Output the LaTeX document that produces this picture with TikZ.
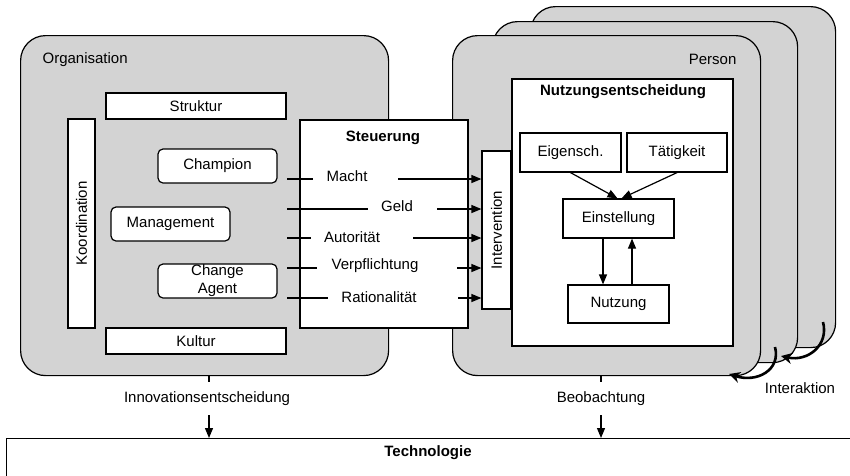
\documentclass[tikz,border=0pt]{standalone}
\usepackage{fontspec}
\setmainfont{Liberation Sans}
\usetikzlibrary{arrows.meta}
\definecolor{panel}{RGB}{211,211,211}
\begin{document}
\begin{tikzpicture}[x=1pt,y=-1pt,
  font=\fontsize{15}{18}\selectfont,
  line width=1.2pt,
  panelbox/.style={draw, fill=panel, rounded corners=25pt, anchor=north west, inner sep=0pt},
  whitebox/.style={draw, fill=white, inner sep=0pt, align=center},
  actor/.style={whitebox, rounded corners=5pt, minimum width=119pt, minimum height=34pt},
  titletext/.style={font=\fontsize{15}{18}\selectfont\bfseries},
  arr/.style={-{Triangle[length=10pt,width=8pt]}},
  turnarr/.style={line width=2.6pt, -{Stealth[length=11pt,width=11pt]}}
]
\clip (0,0) rectangle (850,475);

% Organisation panel
\node[panelbox, minimum width=368pt, minimum height=340pt] (org) at (20,35) {};
\node[anchor=west, inner sep=0pt] (orglabel) at (42,60) {Organisation};
\node[whitebox, minimum width=180pt, minimum height=26pt] (struktur) at (196,106) {Struktur};
\node[whitebox, minimum width=180pt, minimum height=26pt] (kultur) at (196,341) {Kultur};
\node[whitebox, rotate=90, minimum width=209pt, minimum height=27pt] (koord) at (81.5,223.5) {Koordination};
\node[actor] (champion) at (217.5,166) {Champion};
\node[actor] (management) at (170.5,224) {Management};
\node[actor, font=\fontsize{15}{18}\selectfont] (agent) at (217.5,281) {Change\\Agent};

% Person panels, stacked
\node[panelbox, minimum width=305pt, minimum height=341pt] (person3) at (530,6) {};
\node[panelbox, minimum width=305pt, minimum height=341pt] (person2) at (492,21) {};
\node[panelbox, minimum width=308pt, minimum height=340pt] (person) at (452,35) {};
\node[anchor=east, inner sep=0pt] (personlabel) at (737,59) {Person};

% Usage decision
\node[whitebox, minimum width=221pt, minimum height=267pt] (nutzent) at (622.5,212.5) {};
\node[titletext] (nutzenttitle) at (623,92) {Nutzungsentscheidung};
\node[whitebox, minimum width=101pt, minimum height=39pt] (eigen) at (570.5,152.5) {Eigensch.};
\node[whitebox, minimum width=100pt, minimum height=39pt] (taet) at (677,152.5) {Tätigkeit};
\node[whitebox, minimum width=111pt, minimum height=39pt] (einst) at (618.5,218.5) {Einstellung};
\node[whitebox, minimum width=101pt, minimum height=38pt] (nutzung) at (618.5,304) {Nutzung};
\draw[arr] (eigen.south) -- ([xshift=-1pt]einst.north);
\draw[arr] (taet.south) -- ([xshift=3pt]einst.north);
\draw[arr] ([xshift=-15.5pt]einst.south) -- ([xshift=-15.5pt]nutzung.north);
\draw[arr] ([xshift=13.5pt]nutzung.north) -- ([xshift=13.5pt]einst.south);

% Steering box and intervention
\node[whitebox, minimum width=168pt, minimum height=208pt] (steuer) at (384,224) {};
\node[titletext] (steuertitle) at (383,138) {Steuerung};
\node[whitebox, rotate=90, minimum width=158pt, minimum height=29pt] (interv) at (496.5,230) {Intervention};

% Steering instruments
\node (macht) at (347,176) {Macht};
\node (geld) at (397,206) {Geld};
\node (autor) at (352,237) {Autorität};
\node (verpf) at (375,266) {Verpflichtung};
\node (ratio) at (379,297) {Rationalität};

\coordinate (m0) at (287,179); \coordinate (m1) at (313,179); \coordinate (m2) at (398,179);
\coordinate (g0) at (287,209); \coordinate (g1) at (368,209); \coordinate (g2) at (437,209);
\coordinate (a0) at (287,238); \coordinate (a1) at (311,238); \coordinate (a2) at (413,238);
\coordinate (v0) at (287,268); \coordinate (v1) at (317,268); \coordinate (v2) at (457,268);
\coordinate (r0) at (287,298); \coordinate (r1) at (328,298); \coordinate (r2) at (458,298);

\draw (m0) -- (m1); \draw[arr] (m2) -- (m2 -| interv.north);
\draw (g0) -- (g1); \draw[arr] (g2) -- (g2 -| interv.north);
\draw (a0) -- (a1); \draw[arr] (a2) -- (a2 -| interv.north);
\draw (v0) -- (v1); \draw[arr] (v2) -- (v2 -| interv.north);
\draw (r0) -- (r1); \draw[arr] (r2) -- (r2 -| interv.north);

% Interaction between persons
\coordinate (i1s) at (823,322); \coordinate (i1e) at (781,356);
\coordinate (i2s) at (775,347); \coordinate (i2e) at (729,374);
\draw[turnarr] (i1s) .. controls (829,345) and (808,362) .. (i1e);
\draw[turnarr] (i2s) .. controls (781,370) and (757,383) .. (i2e);
\node (interaktion) at (800,388) {Interaktion};

% Technology
\node[draw, fill=white, anchor=north west, minimum width=880pt, minimum height=80pt, inner sep=0pt] (tech) at (6,438) {};
\node[titletext] (techlabel) at (428,453) {Technologie};

\node (innov) at (207,399) {Innovationsentscheidung};
\node (beob) at (601,399) {Beobachtung};
\coordinate (ot) at (209,375); \coordinate (pt) at (601,375);
\draw (ot) -- ++(0,7);
\draw (pt) -- ++(0,7);
\draw[arr] (209,415) -- (209,438);
\draw[arr] (601,415) -- (601,438);
\end{tikzpicture}
\end{document}
